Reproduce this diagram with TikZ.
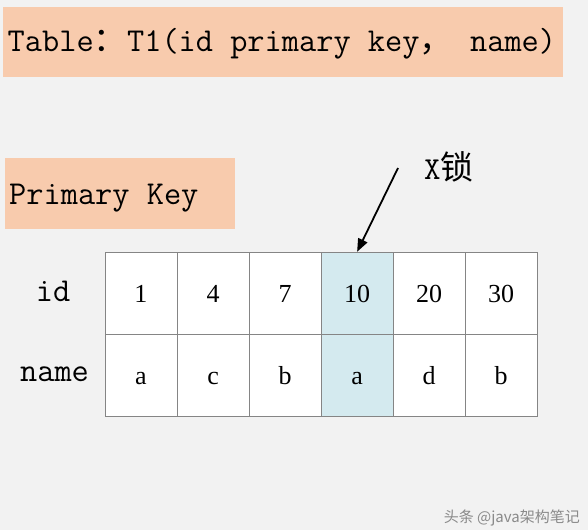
\documentclass[tikz,border=0pt]{standalone}
\usepackage{fontspec}
\setmainfont{Liberation Serif}
\newfontfamily\cjkfont{Noto Sans CJK SC}
\usetikzlibrary{arrows.meta}
\definecolor{bgcol}{HTML}{F2F2F2}
\definecolor{peach}{HTML}{F8CBAD}
\definecolor{lockblue}{HTML}{D4EAEF}
\definecolor{gridgray}{HTML}{858585}
\definecolor{markgray}{HTML}{8A8A8A}
\begin{document}
\begin{tikzpicture}[x=1pt,y=-1pt,
  banner/.style={fill=peach, draw=none},
  monotext/.style={font=\fontsize{33.4}{37}\selectfont\ttfamily, inner sep=0pt},
  cell/.style={draw=gridgray, line width=0.9pt, fill=white, minimum width=72.05pt, minimum height=82.2pt,
    inner sep=0pt, anchor=north west, text height=18pt, text depth=0pt, font=\fontsize{26}{30}\selectfont},
  lockcell/.style={cell, fill=lockblue},
  pointer/.style={line width=1.8pt, -{Triangle[length=13pt,width=10pt]}}
]
\useasboundingbox (0,0) rectangle (588,530);
\fill[bgcol] (0,0) rectangle (588,530);

% title banner
\fill[banner] (3,7) rectangle (563,77);
\node[monotext, anchor=base west] (title) at (7.5,51.5) {Table{\cjkfont：}T1(id primary key{\cjkfont，} name)};

% primary key box
\fill[banner] (5,158) rectangle (235,229);
\node[monotext, anchor=base west] (pk) at (9,204) {Primary Key};

% row labels
\node[monotext, anchor=base] (lid) at (53,301.5) {id};
\node[monotext, anchor=base] (lname) at (54.5,381.5) {name};

% table cells
\foreach \v [count=\i] in {1,4,7,10,20,30} {
  \pgfmathsetmacro{\xx}{104.5+(\i-1)*72.05}
  \ifnum\i=4
    \node[lockcell] (c1\i) at (\xx,251.8) {\v};
  \else
    \node[cell] (c1\i) at (\xx,251.8) {\v};
  \fi
}
\foreach \v [count=\i] in {a,c,b,a,d,b} {
  \pgfmathsetmacro{\xx}{104.5+(\i-1)*72.05}
  \ifnum\i=4
    \node[lockcell] (c2\i) at (\xx,334) {\v};
  \else
    \node[cell] (c2\i) at (\xx,334) {\v};
  \fi
}

% X lock label and arrow
\node[inner sep=0pt, anchor=base west] (xlock) at (424,179) {\fontsize{32}{36}\selectfont\ttfamily X\cjkfont\fontsize{33}{36}\selectfont 锁};
\coordinate (arrowstart) at (398,168);
\draw[pointer] (arrowstart) -- (c14.north);

% watermark
\node[inner sep=0pt, anchor=base east, text=markgray] (mark) at (580,522) {\cjkfont\fontsize{15}{18}\selectfont 头条 @java架构笔记};
\end{tikzpicture}
\end{document}
